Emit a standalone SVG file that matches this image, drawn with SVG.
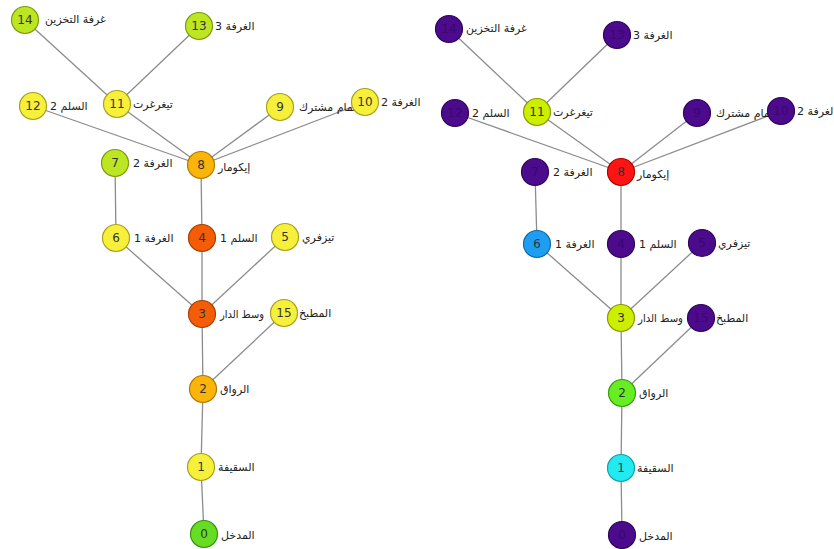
<svg xmlns="http://www.w3.org/2000/svg" width="834" height="549" viewBox="0 0 834 549">
<style>
.e{stroke:#8c8c8c;stroke-width:1.3;fill:none}
circle{stroke-width:1.2}
.n{font-family:"DejaVu Sans",Verdana,sans-serif;font-size:12px;fill:#333;text-anchor:middle}
.l{font-family:"DejaVu Sans",sans-serif;font-size:11px;fill:#222}
.yel{fill:#f7f03a;stroke:#a8a020}
.ygr{fill:#bde622;stroke:#7f9a10}
.amb{fill:#fbb40a;stroke:#b07a00}
.org{fill:#f45c08;stroke:#a84000}
.grn{fill:#66dd22;stroke:#3a9010}
.pur{fill:#4c0a8c;stroke:#30065a}
.pur+.n{fill:#3a0870}
.red{fill:#ff1414;stroke:#b00000}
.blu{fill:#1e9ef2;stroke:#0f6aa8}
.lim{fill:#ccee00;stroke:#8a9a00}
.gr2{fill:#66ee22;stroke:#3a9a10}
.cya{fill:#22eaf0;stroke:#10a0a8}
</style>
<rect width="834" height="549" fill="#fff"/>
<g id="connectors">
<line class="e" x1="204" y1="534" x2="201" y2="467"/>
<line class="e" x1="201" y1="467" x2="203" y2="389"/>
<line class="e" x1="203" y1="389" x2="202" y2="314"/>
<line class="e" x1="203" y1="389" x2="284" y2="313"/>
<line class="e" x1="202" y1="314" x2="202" y2="238"/>
<line class="e" x1="202" y1="314" x2="116" y2="238"/>
<line class="e" x1="202" y1="314" x2="285" y2="237"/>
<line class="e" x1="202" y1="238" x2="201" y2="165"/>
<line class="e" x1="116" y1="238" x2="115" y2="163"/>
<line class="e" x1="201" y1="165" x2="117" y2="104"/>
<line class="e" x1="201" y1="165" x2="33" y2="106"/>
<line class="e" x1="201" y1="165" x2="280" y2="107"/>
<line class="e" x1="201" y1="165" x2="365" y2="102"/>
<line class="e" x1="117" y1="104" x2="25" y2="20"/>
<line class="e" x1="117" y1="104" x2="199" y2="26"/>
<line class="e" x1="622" y1="535" x2="621" y2="468"/>
<line class="e" x1="621" y1="468" x2="622" y2="393"/>
<line class="e" x1="622" y1="393" x2="621" y2="318"/>
<line class="e" x1="622" y1="393" x2="701" y2="318"/>
<line class="e" x1="621" y1="318" x2="621" y2="244"/>
<line class="e" x1="621" y1="318" x2="537" y2="244"/>
<line class="e" x1="621" y1="318" x2="702" y2="243"/>
<line class="e" x1="621" y1="244" x2="621" y2="172"/>
<line class="e" x1="537" y1="244" x2="535" y2="172"/>
<line class="e" x1="621" y1="172" x2="537" y2="112"/>
<line class="e" x1="621" y1="172" x2="455" y2="113"/>
<line class="e" x1="621" y1="172" x2="697" y2="113"/>
<line class="e" x1="621" y1="172" x2="781" y2="111"/>
<line class="e" x1="537" y1="112" x2="449" y2="29"/>
<line class="e" x1="537" y1="112" x2="617" y2="35"/>
</g>
<g id="L0"><circle class="grn" cx="204" cy="534" r="13.5"/><text class="n" x="204" y="538">0</text><text class="l" x="221" y="539">المدخل</text></g>
<g id="L1"><circle class="yel" cx="201" cy="467" r="13.5"/><text class="n" x="201" y="471">1</text><text class="l" x="218" y="471">السقيفة</text></g>
<g id="L2"><circle class="amb" cx="203" cy="389" r="13.5"/><text class="n" x="203" y="393">2</text><text class="l" x="220" y="393">الرواق</text></g>
<g id="L3"><circle class="org" cx="202" cy="314" r="13.5"/><text class="n" x="202" y="318">3</text><text class="l" x="220" y="318" textLength="44" lengthAdjust="spacingAndGlyphs">وسط الدار</text></g>
<g id="L4"><circle class="org" cx="202" cy="238" r="13.5"/><text class="n" x="202" y="242">4</text><text class="l" x="220" y="242">السلم 1</text></g>
<g id="L5"><circle class="yel" cx="285" cy="237" r="13.5"/><text class="n" x="285" y="241">5</text><text class="l" x="302" y="241">تيزفري</text></g>
<g id="L6"><circle class="yel" cx="116" cy="238" r="13.5"/><text class="n" x="116" y="242">6</text><text class="l" x="134" y="242">الغرفة 1</text></g>
<g id="L7"><circle class="ygr" cx="115" cy="163" r="13.5"/><text class="n" x="115" y="167">7</text><text class="l" x="133" y="167">الغرفة 2</text></g>
<g id="L8"><circle class="amb" cx="201" cy="165" r="13.5"/><text class="n" x="201" y="169">8</text><text class="l" x="218" y="171">إيكومار</text></g>
<g id="L9"><circle class="yel" cx="280" cy="107" r="13.5"/><text class="n" x="280" y="111">9</text><text class="l" x="299" y="111">حمام مشترك</text></g>
<g id="L10"><circle class="yel" cx="365" cy="102" r="13.5"/><text class="n" x="365" y="106">10</text><text class="l" x="381" y="106">الغرفة 2</text></g>
<g id="L11"><circle class="yel" cx="117" cy="104" r="13.5"/><text class="n" x="117" y="108">11</text><text class="l" x="133" y="108">تيغرغرت</text></g>
<g id="L12"><circle class="yel" cx="33" cy="106" r="13.5"/><text class="n" x="33" y="110">12</text><text class="l" x="50" y="110">السلم 2</text></g>
<g id="L13"><circle class="ygr" cx="199" cy="26" r="13.5"/><text class="n" x="199" y="30">13</text><text class="l" x="215" y="30">الغرفة 3</text></g>
<g id="L14"><circle class="ygr" cx="25" cy="20" r="13.5"/><text class="n" x="25" y="24">14</text><text class="l" x="45" y="23">غرفة التخزين</text></g>
<g id="L15"><circle class="yel" cx="284" cy="313" r="13.5"/><text class="n" x="284" y="317">15</text><text class="l" x="299" y="317">المطبخ</text></g>
<g id="R0"><circle class="pur" cx="622" cy="535" r="13.5"/><text class="n" x="622" y="539">0</text><text class="l" x="639" y="540">المدخل</text></g>
<g id="R1"><circle class="cya" cx="621" cy="468" r="13.5"/><text class="n" x="621" y="472">1</text><text class="l" x="637" y="472">السقيفة</text></g>
<g id="R2"><circle class="gr2" cx="622" cy="393" r="13.5"/><text class="n" x="622" y="397">2</text><text class="l" x="639" y="397">الرواق</text></g>
<g id="R3"><circle class="lim" cx="621" cy="318" r="13.5"/><text class="n" x="621" y="322">3</text><text class="l" x="638" y="322" textLength="45" lengthAdjust="spacingAndGlyphs">وسط الدار</text></g>
<g id="R4"><circle class="pur" cx="621" cy="244" r="13.5"/><text class="n" x="621" y="248">4</text><text class="l" x="639" y="248">السلم 1</text></g>
<g id="R5"><circle class="pur" cx="702" cy="243" r="13.5"/><text class="n" x="702" y="247">5</text><text class="l" x="718" y="247">تيزفري</text></g>
<g id="R6"><circle class="blu" cx="537" cy="244" r="13.5"/><text class="n" x="537" y="248">6</text><text class="l" x="555" y="248">الغرفة 1</text></g>
<g id="R7"><circle class="pur" cx="535" cy="172" r="13.5"/><text class="n" x="535" y="176">7</text><text class="l" x="553" y="176">الغرفة 2</text></g>
<g id="R8"><circle class="red" cx="621" cy="172" r="13.5"/><text class="n" x="621" y="176">8</text><text class="l" x="637" y="178">إيكومار</text></g>
<g id="R9"><circle class="pur" cx="697" cy="113" r="13.5"/><text class="n" x="697" y="117">9</text><text class="l" x="716" y="117">حمام مشترك</text></g>
<g id="R10"><circle class="pur" cx="781" cy="111" r="13.5"/><text class="n" x="781" y="115">10</text><text class="l" x="797" y="115">الغرفة 2</text></g>
<g id="R11"><circle class="lim" cx="537" cy="112" r="13.5"/><text class="n" x="537" y="116">11</text><text class="l" x="553" y="116">تيغرغرت</text></g>
<g id="R12"><circle class="pur" cx="455" cy="113" r="13.5"/><text class="n" x="455" y="117">12</text><text class="l" x="472" y="117">السلم 2</text></g>
<g id="R13"><circle class="pur" cx="617" cy="35" r="13.5"/><text class="n" x="617" y="39">13</text><text class="l" x="633" y="39">الغرفة 3</text></g>
<g id="R14"><circle class="pur" cx="449" cy="29" r="13.5"/><text class="n" x="449" y="33">14</text><text class="l" x="466" y="32">غرفة التخزين</text></g>
<g id="R15"><circle class="pur" cx="701" cy="318" r="13.5"/><text class="n" x="701" y="322">15</text><text class="l" x="716" y="322">المطبخ</text></g>
</svg>
